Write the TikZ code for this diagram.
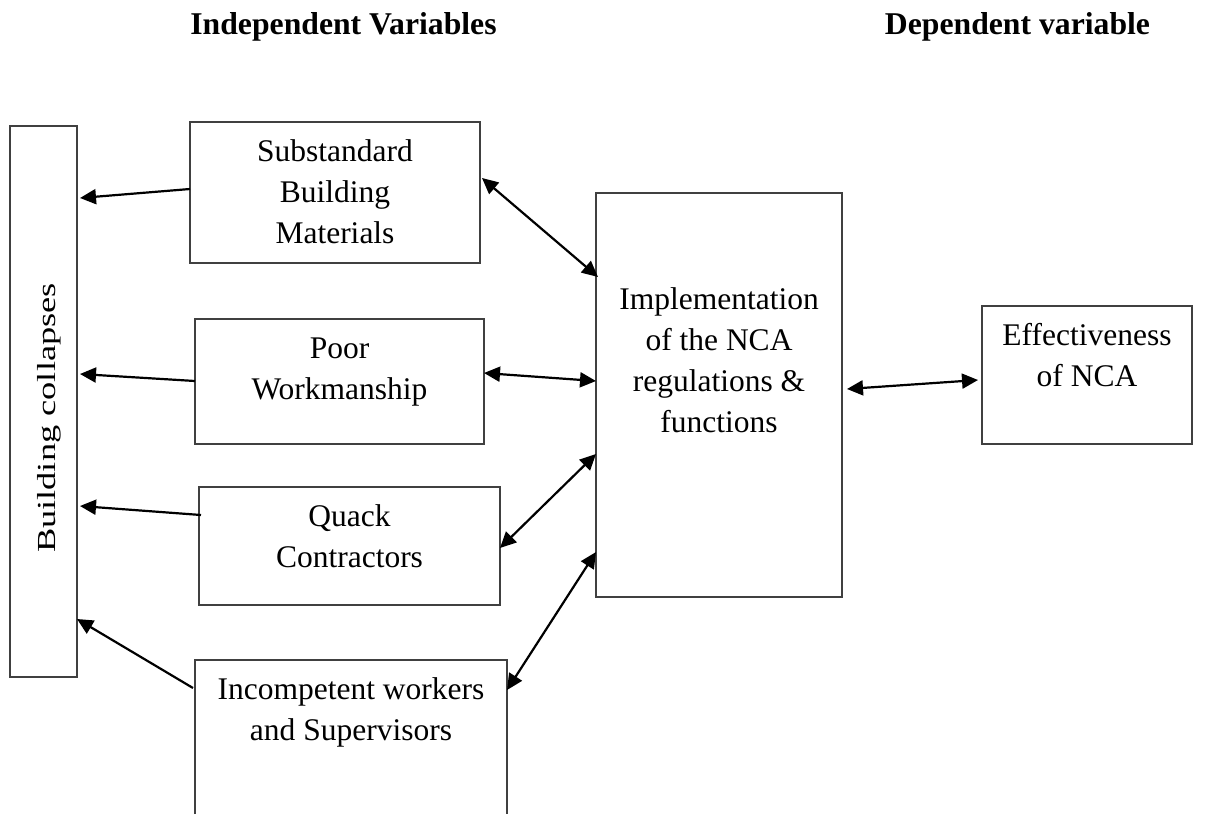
\documentclass[tikz,border=0pt]{standalone}
\usepackage{fontspec}
\setmainfont{Liberation Serif}
\usetikzlibrary{arrows.meta,calc}
\definecolor{boxline}{HTML}{404040}
\tikzset{
  box/.style={draw=boxline,line width=1.3pt,inner sep=0pt,outer sep=0pt,anchor=north west},
  openbox/.style={inner sep=0pt,outer sep=0pt,anchor=north west},
  txt/.style={anchor=base,align=center,inner sep=0pt,font=\fontsize{31.5}{41}\selectfont},
  head/.style={anchor=base,inner sep=0pt,font=\fontsize{31.7}{38}\selectfont\bfseries},
  onearrow/.style={line width=2.2pt,-{Triangle[length=16pt,width=15pt]}},
  twoarrow/.style={line width=2.2pt,{Triangle[length=16pt,width=15pt]}-{Triangle[length=16pt,width=15pt]}}
}
\begin{document}
\begin{tikzpicture}[x=1pt,y=-1pt]
\useasboundingbox (0,0) rectangle (1222,814);
% headers
\node[head] (hind) at (343.5,34) {Independent Variables};
\node[head] (hdep) at (1017.5,34) {Dependent variable};
% boxes
\node[box,minimum width=67pt,minimum height=551pt] (bc) at (10,126) {};
\node[box,minimum width=290pt,minimum height=141pt] (sub) at (190,122) {};
\node[box,minimum width=289pt,minimum height=125pt] (poor) at (195,319) {};
\node[box,minimum width=301pt,minimum height=118pt] (quack) at (199,487) {};
\node[openbox,minimum width=312pt,minimum height=154pt] (inc) at (195,660) {};
\draw[draw=boxline,line width=1.3pt] (inc.south west) -- (inc.north west) -- (inc.north east) -- (inc.south east);
\node[box,minimum width=246pt,minimum height=404pt] (impl) at (596,193) {};
\node[box,minimum width=210pt,minimum height=138pt] (eff) at (982,306) {};
% texts (anchor base = baseline of the last line)
\node[anchor=base,inner sep=0pt,rotate=90,font=\fontsize{26}{30}\selectfont] (bct) at (55,418) {\scalebox{1.4}[1]{Building collapses}};
\node[txt] (subt) at (335,243) {Substandard\\Building\\Materials};
\node[txt] (poort) at (339.5,399) {Poor\\Workmanship};
\node[txt] (quackt) at (349.5,567) {Quack\\Contractors};
\node[txt] (inct) at (351,740) {Incompetent workers\\and Supervisors};
\node[txt] (implt) at (719,432) {Implementation\\of the NCA\\regulations \&\\functions};
\node[txt] (efft) at (1087,386) {Effectiveness\\of NCA};
% arrows to Building collapses
\draw[onearrow] ($(sub.north west)+(0,67)$) -- ($(bc.north east)+(3,72)$);
\draw[onearrow] ($(poor.north west)+(0,62)$) -- ($(bc.north east)+(3,248)$);
\draw[onearrow] ($(quack.north west)+(2,28)$) -- ($(bc.north east)+(3,380)$);
\draw[onearrow] ($(inc.north west)+(-2,28)$) -- ($(bc.north east)+(0,493)$);
% double arrows to implementation
\draw[twoarrow] ($(sub.north east)+(2,56)$) -- ($(impl.north west)+(2,84)$);
\draw[twoarrow] ($(poor.north east)+(0,54)$) -- ($(impl.north west)+(0,188)$);
\draw[twoarrow] ($(quack.north east)+(0,61)$) -- ($(impl.north west)+(0,261)$);
\draw[twoarrow] ($(inc.north east)+(0,30)$) -- ($(impl.north west)+(0,359)$);
\draw[twoarrow] ($(impl.north east)+(5,196)$) -- ($(eff.north west)+(-4,74)$);
\end{tikzpicture}
\end{document}
